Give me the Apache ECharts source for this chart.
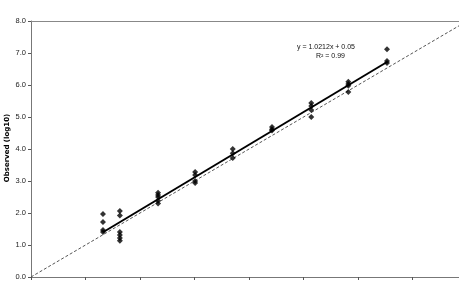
<!DOCTYPE html>
<html><head><meta charset="utf-8">
<script src="https://cdn.jsdelivr.net/npm/echarts@6/dist/echarts.min.js"></script>
<style>html,body{margin:0;padding:0;background:#fff}#c{width:459px;height:282px}</style>
</head><body><div id="c"></div>
<script>
const clusterX = [1.32, 1.63, 2.33, 3.01, 3.70, 4.42, 5.14, 5.82, 6.53];
const clusterY = [
  [1.97, 1.72, 1.47, 1.41],
  [2.06, 1.92, 1.41, 1.31, 1.22, 1.13],
  [2.63, 2.56, 2.50, 2.38, 2.30],
  [3.28, 3.19, 3.00, 2.94],
  [4.00, 3.87, 3.72],
  [4.69, 4.62, 4.58],
  [5.44, 5.34, 5.22, 5.00],
  [6.10, 6.03, 5.98, 5.78],
  [7.12, 6.75, 6.69]
];
const slope = 1.0212, intercept = 0.05;
const yTicks = ['0.0','1.0','2.0','3.0','4.0','5.0','6.0','7.0','8.0'];
const yTitle = 'Observed (log10)';
const xMax = 7.85;

const points = [];
clusterX.forEach((x, i) => clusterY[i].forEach(y => points.push([x, y])));
const xs0 = clusterX[0], xs1 = clusterX[clusterX.length - 1];
const trend = [[xs0, slope * xs0 + intercept], [xs1, slope * xs1 + intercept]];
const identity = [[0, 0], [xMax, xMax]];

const chart = echarts.init(document.getElementById('c'), null, {renderer: 'canvas'});
chart.setOption({
  animation: false,
  backgroundColor: '#fff',
  grid: {left: 31, top: 21, right: 0, bottom: 5, containLabel: false, outerBoundsMode: 'none'},
  xAxis: [{
    type: 'value', min: 0, max: xMax, interval: 1,
    axisLine: {lineStyle: {color: '#777', width: 1}},
    axisTick: {show: true, length: 3, lineStyle: {color: '#555'}},
    axisLabel: {show: false},
    splitLine: {show: false}
  }, {
    type: 'value', position: 'top', min: 0, max: xMax,
    axisLine: {show: true, lineStyle: {color: '#888', width: 1}},
    axisTick: {show: false}, axisLabel: {show: false}, splitLine: {show: false}
  }],
  yAxis: {
    type: 'value', min: 0, max: 8, interval: 1,
    axisLine: {show: true, lineStyle: {color: '#777', width: 1}},
    axisTick: {show: true, length: 3, lineStyle: {color: '#555'}},
    axisLabel: {fontSize: 7.5, fontFamily: 'Liberation Sans, Arial', color: '#222', margin: 5,
      formatter: v => yTicks[Math.round(v)]},
    splitLine: {show: false}
  },
  series: [
    {type: 'line', data: identity, symbol: 'none',
      lineStyle: {color: '#555', width: 1, type: [3, 2]}, z: 1},
    {type: 'line', data: trend, symbol: 'none',
      lineStyle: {color: '#000', width: 2}, z: 2},
    {type: 'scatter', data: points, symbol: 'diamond', symbolSize: 6,
      itemStyle: {color: '#000'}, z: 3}
  ],
  graphic: [
    {type: 'text', x: 7, y: 148, rotation: Math.PI / 2,
      style: {text: yTitle, font: 'bold 7px DejaVu Sans, Arial', fill: '#000', align: 'center', verticalAlign: 'middle'}},
    {type: 'text', left: 297, top: 44, style: {text: 'y = 1.0212x + 0.05', font: '7px Liberation Sans, Arial', fill: '#111'}},
    {type: 'text', left: 316, top: 53, style: {text: 'R² = 0.99', font: '7px Liberation Sans, Arial', fill: '#111'}}
  ]
});
</script></body></html>
